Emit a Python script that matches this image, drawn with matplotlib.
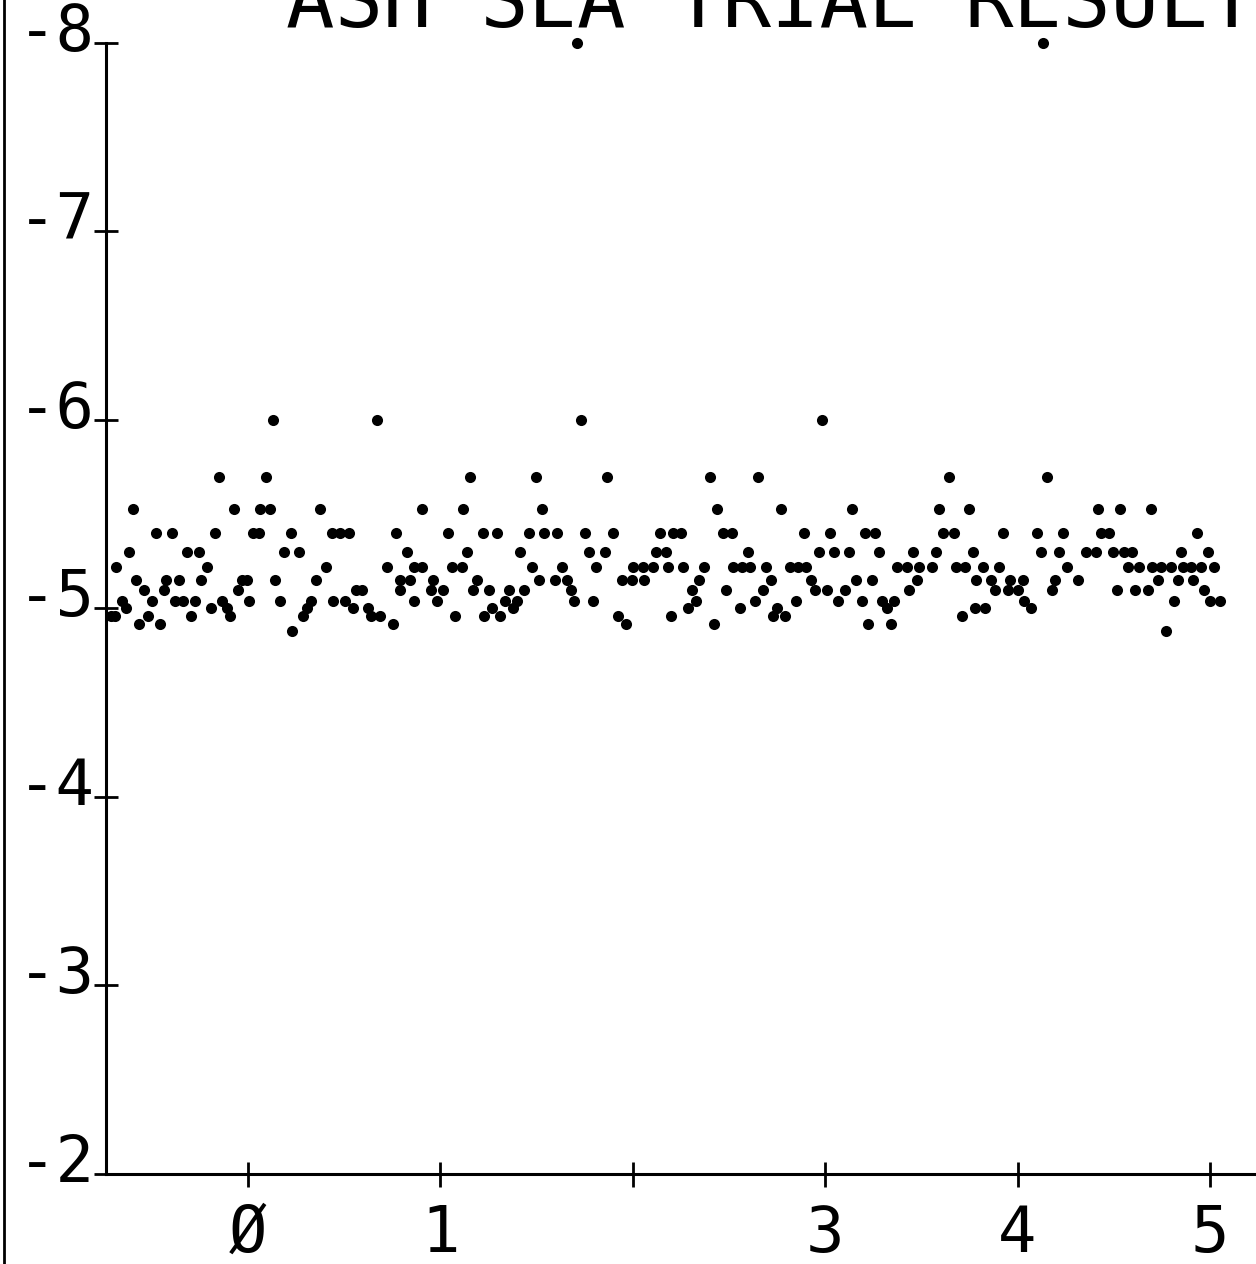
import matplotlib
matplotlib.use('Agg')
import matplotlib.pyplot as plt
import matplotlib.transforms as mtransforms
from matplotlib.lines import Line2D

title = "ASH SEA TRIAL RESULT"
y_ticks = [-8, -7, -6, -5, -4, -3, -2]
y_tick_labels = ["-8", "-7", "-6", "-5", "-4", "-3", "-2"]
x_ticks = [0, 1, 2, 3, 4, 5]
x_tick_labels = ["Ø", "1", "", "3", "4", "5"]

# the readings fall on a few discrete levels, so keep x values per level
x_800 = [1.710, 4.132]
x_600 = [0.128, 0.670, 1.732, 2.983]
x_570 = [-0.151, 0.094, 1.155, 1.497, 1.866, 2.400, 2.652, 3.645, 4.154]
x_553 = [-0.596, -0.071, 0.062, 0.114, 0.373, 0.904, 1.116, 1.530, 2.439,
         2.769, 3.141, 3.591, 3.749, 4.419, 4.534, 4.692]
x_540 = [-0.478, -0.395, -0.172, 0.026, 0.057, 0.223, 0.435, 0.478, 0.525,
         0.771, 1.040, 1.220, 1.293, 1.459, 1.538, 1.606, 1.753, 1.899,
         2.143, 2.209, 2.251, 2.469, 2.516, 2.891, 3.027, 3.207, 3.259,
         3.612, 3.669, 3.926, 4.101, 4.238, 4.434, 4.475, 4.931]
x_530 = [-0.619, -0.315, -0.253, 0.187, 0.265, 0.826, 1.137, 1.415, 1.774,
         1.857, 2.121, 2.173, 2.597, 2.966, 3.047, 3.124, 3.280, 3.455,
         3.576, 3.770, 4.120, 4.217, 4.356, 4.407, 4.497, 4.553, 4.595,
         4.849, 4.991]
x_522 = [-0.686, -0.215, 0.404, 0.721, 0.863, 0.904, 1.060, 1.112, 1.475,
         1.632, 1.810, 2.001, 2.053, 2.105, 2.185, 2.262, 2.372, 2.521,
         2.568, 2.609, 2.694, 2.817, 2.859, 2.900, 3.373, 3.425, 3.488,
         3.555, 3.680, 3.727, 3.822, 3.903, 4.255, 4.572, 4.633, 4.699,
         4.745, 4.797, 4.860, 4.901, 4.952, 5.021]
x_515 = [-0.584, -0.428, -0.357, -0.243, -0.033, -0.007, 0.142, 0.352,
         0.790, 0.842, 0.963, 1.192, 1.511, 1.596, 1.660, 1.944, 1.996,
         2.060, 2.346, 2.717, 2.926, 3.160, 3.242, 3.476, 3.784, 3.862,
         3.961, 4.028, 4.194, 4.316, 4.728, 4.832, 4.910]
x_510 = [-0.542, -0.437, -0.054, 0.561, 0.593, 0.790, 0.951, 1.014, 1.171,
         1.254, 1.358, 1.436, 1.679, 2.308, 2.483, 2.677, 2.947, 3.008,
         3.103, 3.436, 3.883, 3.950, 4.002, 4.177, 4.515, 4.610, 4.678,
         4.969]
x_504 = [-0.656, -0.501, -0.379, -0.336, -0.277, -0.137, 0.007, 0.165,
         0.326, 0.442, 0.504, 0.863, 0.981, 1.336, 1.397, 1.696, 1.792,
         2.327, 2.637, 2.848, 3.065, 3.190, 3.297, 3.358, 4.035, 4.813,
         5.000, 5.052]
x_500 = [-0.636, -0.194, -0.111, 0.305, 0.544, 0.625, 1.270, 1.376, 2.287,
         2.557, 2.751, 3.320, 3.779, 3.831, 4.068]
x_496 = [-0.712, -0.691, -0.521, -0.296, -0.094, 0.284, 0.639, 0.686,
         1.076, 1.227, 1.310, 1.925, 2.197, 2.730, 2.791, 3.709]
x_492 = [-0.565, -0.456, 0.752, 1.965, 2.424, 3.224, 3.340]
x_488 = [0.227, 4.771]

levels = [-8.0, -6.0, -5.7, -5.53, -5.4, -5.3, -5.22, -5.15, -5.1, -5.04,
          -5.0, -4.96, -4.92, -4.88]
series = [x_800, x_600, x_570, x_553, x_540, x_530, x_522, x_515, x_510,
          x_504, x_500, x_496, x_492, x_488]

# plotter-like lettering: fixed-width font
plt.rcParams['font.family'] = 'DejaVu Sans Mono'

fig = plt.figure(figsize=(12.56, 12.64), dpi=100)
ax = fig.add_axes([0.0844, 0.0712, 0.9156, 0.8948])

for level, xs in zip(levels, series):
    ax.plot(xs, [level] * len(xs), 'o', color='black', markersize=8,
            markeredgewidth=0, clip_on=False)

ax.set_xlim(-0.738, 5.239)
ax.set_ylim(-2, -8)

for side in ['top', 'right']:
    ax.spines[side].set_visible(False)
for side in ['left', 'bottom']:
    ax.spines[side].set_linewidth(2.2)

ax.set_yticks(y_ticks)
ax.set_yticklabels([])
ax.set_xticks(x_ticks)
ax.set_xticklabels(x_tick_labels, fontsize=46)
ax.tick_params(axis='y', direction='inout', length=17, width=2)
ax.tick_params(axis='x', direction='inout', length=18, width=2, pad=12)

# y labels sit just left of the axis, baseline a little below the tick
ylab_trans = mtransforms.offset_copy(ax.get_yaxis_transform(), fig=fig,
                                     x=-11, y=-8, units='dots')
for tick, lab in zip(y_ticks, y_tick_labels):
    ax.text(0, tick, lab, transform=ylab_trans, fontsize=46,
            ha='right', va='baseline', clip_on=False)

fig.text(0.228, 1 - 27 / 1264, title, fontsize=58,
         va='baseline', ha='left')
fig.add_artist(Line2D([0.003, 0.003], [0, 1], color='black', linewidth=2))

plt.savefig("out.png", dpi=100)
